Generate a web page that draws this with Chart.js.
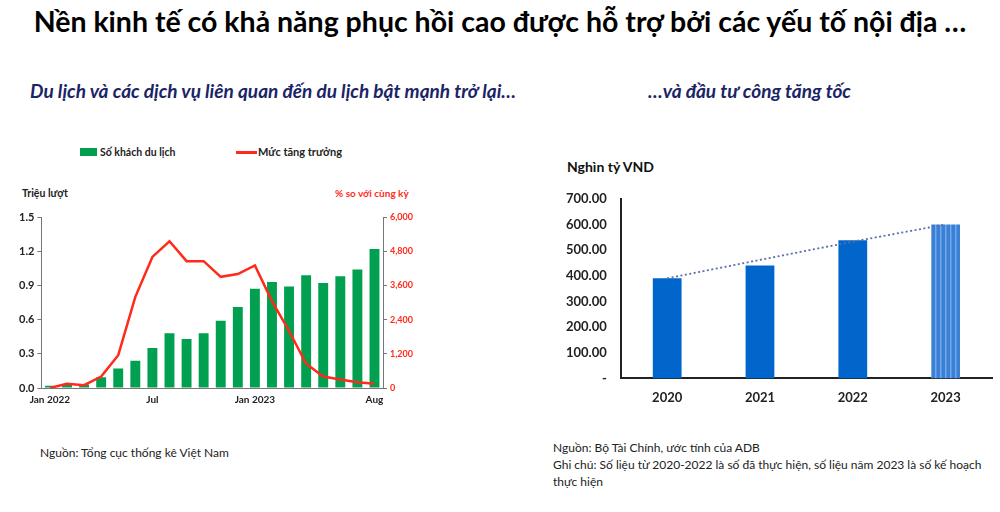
<!DOCTYPE html>
<html lang="vi">
<head>
<meta charset="utf-8">
<script src="https://cdn.jsdelivr.net/npm/chart.js@4.4.0/dist/chart.umd.min.js"></script>
<style>
  html, body { margin: 0; padding: 0; background: #fff; }
  body { width: 1000px; height: 512px; position: relative; overflow: hidden; font-family: Lato, "Noto Sans", sans-serif; color: #111; }
  .abs { position: absolute; white-space: nowrap; }
  #title { left: 0; width: 1000px; top: 4px; text-align: center; font-size: 28.5px; font-weight: bold; color: #000; }
  .sub { font-size: 19px; font-weight: bold; font-style: italic; color: #1a2466; top: 79px; }
  .note { font-size: 12px; color: #222; line-height: 17px; }
  .axt { font-weight: bold; }
  .leg { font-size: 11px; font-weight: bold; color: #222; top: 145px; }
  .sw { position: absolute; }
  canvas { position: absolute; }
</style>
</head>
<body>
<div id="title" class="abs">Nền kinh tế có khả năng phục hồi cao được hỗ trợ bởi các yếu tố nội địa …</div>
<div class="abs sub" style="left:30px;">Du lịch và các dịch vụ liên quan đến du lịch bật mạnh trở lại…</div>
<div class="abs sub" style="left:648px;">…và đầu tư công tăng tốc</div>

<!-- legend of the left chart -->
<div class="sw" style="left:80px; top:148px; width:17px; height:8px; background:#00a050;"></div>
<div class="abs leg" style="left:100px; font-size:10.5px; top:146px;">Số khách du lịch</div>
<div class="sw" style="left:236px; top:151px; width:21px; height:2.5px; background:#ff2a1a;"></div>
<div class="abs leg" style="left:258px;">Mức tăng trưởng</div>

<div class="abs axt" style="left:22px; top:187px; font-size:10.5px; color:#222;">Triệu lượt</div>
<div class="abs axt" style="left:335px; top:187px; font-size:10px; color:#ff2a1a;">% so với cùng kỳ</div>
<div class="abs" style="left:567px; top:158px; font-size:14px; font-weight:bold; color:#111;">Nghìn tỷ VND</div>

<div class="abs note" style="left:40px; top:444px;">Nguồn: Tổng cục thống kê Việt Nam</div>
<div class="abs note" style="left:553px; top:439px;">Nguồn: Bộ Tài Chính, ước tính của ADB<br>Ghi chú: Số liệu từ 2020-2022 là số đã thực hiện, số liệu năm 2023 là số kế hoạch<br>thực hiện</div>

<canvas id="tourism" style="left:0; top:200px;"></canvas>
<canvas id="invest" style="left:540px; top:177px;"></canvas>

<script>
// --- left chart: tourists and growth
const months = ['Jan 2022','Feb 2022','Mar 2022','Apr 2022','May 2022','Jun 2022','Jul 2022','Aug 2022','Sep 2022','Oct 2022','Nov 2022','Dec 2022',
                'Jan 2023','Feb 2023','Mar 2023','Apr 2023','May 2023','Jun 2023','Jul 2023','Aug 2023'];
const monthTicks = {0: 'Jan 2022', 6: 'Jul', 12: 'Jan 2023', 19: 'Aug'};
const visitors = [0.02, 0.03, 0.03, 0.095, 0.17, 0.24, 0.35, 0.48, 0.43, 0.48, 0.59, 0.71,
                  0.87, 0.93, 0.89, 0.99, 0.92, 0.98, 1.04, 1.22];
const growth = [0, 150, 100, 400, 1150, 3200, 4600, 5150, 4450, 4450, 3900, 4000,
                4300, 3050, 2000, 850, 400, 300, 200, 150];
const visitorTicks = [0, 0.3, 0.6, 0.9, 1.2, 1.5];
const growthTicks = [0, 1200, 2400, 3600, 4800, 6000];

// --- right chart: public investment
const years = ['2020', '2021', '2022', '2023'];
const investment = [390, 440, 538, 600];
const investTrend = [390, 462, 533, 600];

const GREEN = '#00a050';
const RED = '#ff2a1a';
const BLUE = '#0066cc';

function setSize(id, w, h){
    const c = document.getElementById(id);
    c.style.width = w + 'px';
    c.style.height = h + 'px';
    c.width = w; c.height = h;
    return c;
}

// 2023 is a plan figure, drawn hatched
function stripePattern(){
    const p = document.createElement('canvas');
    p.width = 5; p.height = 5;
    const g = p.getContext('2d');
    g.fillStyle = '#3a80d6';
    g.fillRect(0, 0, 5, 5);
    g.fillStyle = '#72a8e8';
    g.fillRect(0, 0, 1.5, 5);
    return g.createPattern(p, 'repeat');
}

Chart.defaults.font.family = 'Lato, "Noto Sans", sans-serif';
Chart.defaults.animation = false;

new Chart(setSize('tourism', 420, 212), {
    data: {
        labels: months,
        datasets: [
            {
                type: 'bar',
                label: 'Số khách du lịch',
                data: visitors,
                backgroundColor: GREEN,
                barPercentage: 0.58,
                categoryPercentage: 1,
                yAxisID: 'y',
                order: 2
            },
            {
                type: 'line',
                label: 'Mức tăng trưởng',
                data: growth,
                borderColor: RED,
                borderWidth: 2.5,
                pointRadius: 0,
                tension: 0,
                yAxisID: 'y1',
                order: 1
            }
        ]
    },
    options: {
        responsive: false,
        layout: { padding: { left: 16, right: 4, top: 17, bottom: 0 } },
        plugins: { legend: { display: false }, tooltip: { enabled: false } },
        scales: {
            x: {
                offset: true,
                grid: { display: false, drawTicks: false },
                border: { color: '#777' },
                ticks: {
                    autoSkip: false,
                    maxRotation: 0,
                    padding: 6,
                    color: '#222',
                    font: { size: 10, weight: 'bold' },
                    callback: (v, i) => monthTicks[i] || ''
                }
            },
            y: {
                position: 'left',
                min: 0, max: 1.5,
                afterBuildTicks: s => { s.ticks = visitorTicks.map(v => ({value: v})); },
                grid: { drawOnChartArea: false, tickLength: 4, color: '#777' },
                border: { color: '#777' },
                ticks: {
                    color: '#222',
                    font: { size: 11, weight: 'bold' },
                    callback: v => v.toFixed(1)
                }
            },
            y1: {
                position: 'right',
                min: 0, max: 6000,
                afterBuildTicks: s => { s.ticks = growthTicks.map(v => ({value: v})); },
                grid: { drawOnChartArea: false, tickLength: 4, color: '#777' },
                border: { color: '#777' },
                ticks: {
                    color: RED,
                    font: { size: 9, weight: 'bold' },
                    callback: v => v.toLocaleString('en-US')
                }
            }
        }
    }
});

new Chart(setSize('invest', 460, 233), {
    data: {
        labels: years,
        datasets: [
            {
                type: 'line',
                label: 'Xu hướng',
                data: investTrend,
                borderColor: '#5a6fa8',
                borderWidth: 1.8,
                borderDash: [2, 2.5],
                pointRadius: 0,
                order: 1
            },
            {
                type: 'bar',
                label: 'Đầu tư công',
                data: investment,
                backgroundColor: investment.map((v, i) => i === investment.length - 1 ? stripePattern() : BLUE),
                barPercentage: 0.31,
                categoryPercentage: 1,
                order: 2
            }
        ]
    },
    options: {
        responsive: false,
        layout: { padding: { left: 12, right: 8, top: 8, bottom: 0 } },
        plugins: { legend: { display: false }, tooltip: { enabled: false } },
        scales: {
            x: {
                offset: true,
                grid: { display: false },
                border: { color: '#222', width: 2 },
                ticks: { color: '#222', padding: 4, font: { size: 13, weight: 'bold' } }
            },
            y: {
                min: 0, max: 700,
                ticks: {
                    stepSize: 100,
                    color: '#222',
                    padding: 14,
                    font: { size: 13, weight: 'bold' },
                    callback: v => v === 0 ? '-' : v.toFixed(2)
                },
                grid: { display: false, drawTicks: false },
                border: { color: '#222', width: 2 }
            }
        }
    }
});
</script>
</body>
</html>
